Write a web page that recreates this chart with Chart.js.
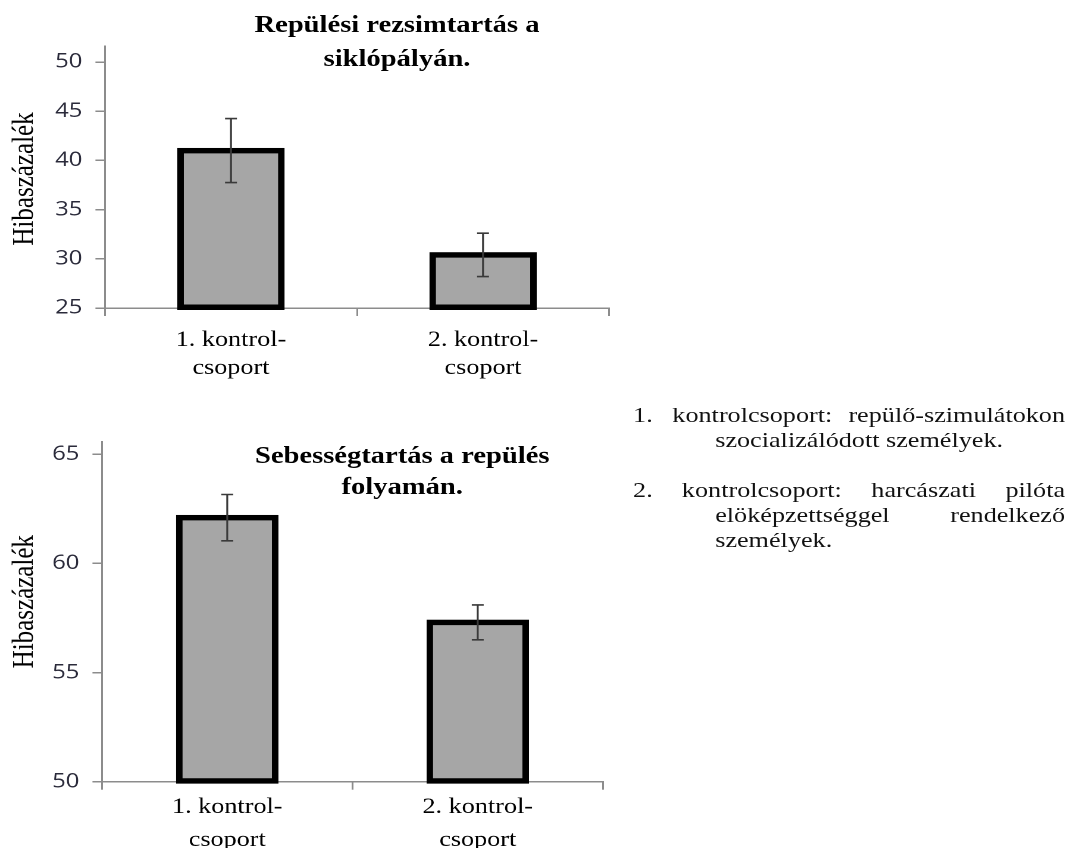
<!DOCTYPE html>
<html lang="hu">
<head>
<meta charset="utf-8">
<title>Hibaszázalék</title>
<script src="https://cdn.jsdelivr.net/npm/chart.js@4.4.1/dist/chart.umd.min.js"></script>
<style>
  html, body { margin: 0; padding: 0; background: #fff; }
  body { width: 1075px; height: 848px; overflow: hidden; position: relative; }
  /* the page is laid out in a narrower box and widened horizontally */
  #page { position: absolute; left: 0; top: 0; width: 903.4px; height: 848px;
          transform: scaleX(1.19); transform-origin: 0 0; }
  #c1 { position: absolute; left: 0; top: 0; }
  #c2 { position: absolute; left: 0; top: 390px; }
  #notes { position: absolute; left: 532px; top: 402px; width: 363px;
           font-family: "Liberation Serif", "Times New Roman", serif;
           font-size: 22px; line-height: 25px; color: #111; }
  #notes .item { margin-bottom: 25px; }
  #notes .j { text-align: justify; text-align-last: justify; }
  #notes .l { text-align: left; }
  #notes .in { padding-left: 69px; }
  #notes .num { display: inline-block; }
</style>
</head>
<body>
<div id="page">
  <canvas id="c1" width="530" height="390"></canvas>
  <canvas id="c2" width="530" height="458"></canvas>
  <div id="notes">
    <div class="item">
      <div class="j"><span class="num" style="width:33px">1.</span>kontrolcsoport: repülő-szimulátokon</div>
      <div class="l in">szocializálódott személyek.</div>
    </div>
    <div class="item">
      <div class="j"><span class="num" style="width:41px">2.</span>kontrolcsoport: harcászati pilóta</div>
      <div class="j in">elöképzettséggel rendelkező</div>
      <div class="l in">személyek.</div>
    </div>
  </div>
</div>
<script>
// categories shared by both charts
const categories = [['1. kontrol-', 'csoport'], ['2. kontrol-', 'csoport']];
const axisTitle = 'Hibaszázalék';

// chart 1: approach path regime keeping
const chart1Title = ['Repülési rezsimtartás a', 'siklópályán.'];
const chart1Values = [41.0, 30.4];
const chart1Errors = [3.25, 2.2];
const chart1Ticks = [25, 30, 35, 40, 45, 50];

// chart 2: speed keeping during flight
const chart2Title = ['Sebességtartás a repülés', 'folyamán.'];
const chart2Values = [62.1, 57.3];
const chart2Errors = [1.06, 0.8];
const chart2Ticks = [50, 55, 60, 65];

const axisGray = '#8c8c8c';
const serif = '"Liberation Serif", "Times New Roman", serif';

function makeChart(id, spec) {
  // error whiskers drawn on top of the bars
  const errorBars = {
    id: 'errorBars',
    afterDatasetsDraw(chart) {
      const ctx = chart.ctx;
      const y = chart.scales.y;
      const meta = chart.getDatasetMeta(0);
      ctx.save();
      ctx.strokeStyle = '#3a3a3a';
      ctx.lineWidth = 1.6;
      meta.data.forEach((bar, i) => {
        const v = spec.values[i], e = spec.errors[i];
        const yt = y.getPixelForValue(v + e);
        const yb = y.getPixelForValue(v - e);
        const cap = 5;
        ctx.beginPath();
        ctx.moveTo(bar.x, yt); ctx.lineTo(bar.x, yb);
        ctx.moveTo(bar.x - cap, yt); ctx.lineTo(bar.x + cap, yt);
        ctx.moveTo(bar.x - cap, yb); ctx.lineTo(bar.x + cap, yb);
        ctx.stroke();
      });
      ctx.restore();
    }
  };
  // chart title and rotated value-axis caption
  const textLabels = {
    id: 'textLabels',
    afterDraw(chart) {
      const ctx = chart.ctx;
      ctx.save();
      ctx.fillStyle = '#000';
      ctx.textAlign = 'center';
      ctx.textBaseline = 'middle';
      ctx.font = 'bold 24px ' + serif;
      spec.title.forEach((t, i) => ctx.fillText(t, spec.titleX, spec.titleY[i]));
      ctx.translate(spec.axisX, spec.axisY);
      ctx.rotate(-Math.PI / 2);
      ctx.font = '25px ' + serif;
      ctx.fillText(axisTitle, 0, 0);
      ctx.restore();
    }
  };

  return new Chart(document.getElementById(id), {
    type: 'bar',
    data: {
      labels: categories,
      datasets: [{
        data: spec.values,
        base: spec.min,
        backgroundColor: '#a6a6a6',
        borderColor: '#000',
        borderWidth: 5.5,
        inflateAmount: 2.75,
        borderSkipped: false,
        barPercentage: spec.barPct,
        categoryPercentage: 1,
        clip: false
      }]
    },
    options: {
      responsive: false,
      animation: false,
      devicePixelRatio: 2,
      layout: { padding: { left: 0, right: spec.padRight, top: spec.padTop, bottom: 0 } },
      plugins: { legend: { display: false }, tooltip: { enabled: false }, title: { display: false } },
      scales: {
        x: {
          grid: { offset: true, drawOnChartArea: false, tickLength: 8, color: axisGray, lineWidth: 1.5 },
          border: { color: axisGray, width: 1.5 },
          ticks: { color: '#000', font: { family: serif, size: 22, lineHeight: spec.lineH + 'px' },
                   padding: spec.xPad, maxRotation: 0, autoSkip: false },
          afterFit(s) { s.height = spec.xH; }
        },
        y: {
          min: spec.min, max: spec.max,
          grid: { drawOnChartArea: false, tickLength: 8, color: axisGray, lineWidth: 1.5 },
          border: { color: axisGray, width: 1.5 },
          ticks: { color: '#2a2a3a', font: { family: '"Open Sans", Lato, sans-serif', size: 20 }, padding: 11 },
          afterBuildTicks(s) { s.ticks = spec.ticks.map(v => ({ value: v })); },
          afterFit(s) { s.width = spec.yW; }
        }
      }
    },
    plugins: [errorBars, textLabels]
  });
}

makeChart('c1', {
  values: chart1Values, errors: chart1Errors, ticks: chart1Ticks, title: chart1Title,
  min: 25, max: 51.63, barPct: 0.4,
  padTop: 46, padRight: 18.2, yW: 88.2, xH: 82, xPad: 10, lineH: 28,
  titleX: 333.6, titleY: [26, 60], axisX: 21, axisY: 179
});

makeChart('c2', {
  values: chart2Values, errors: chart2Errors, ticks: chart2Ticks, title: chart2Title,
  min: 50, max: 65.58, barPct: 0.383,
  padTop: 51.7, padRight: 23.3, yW: 85.7, xH: 66.3, xPad: 1, lineH: 33,
  titleX: 338, titleY: [67, 98], axisX: 21, axisY: 211.7
});
</script>
</body>
</html>
